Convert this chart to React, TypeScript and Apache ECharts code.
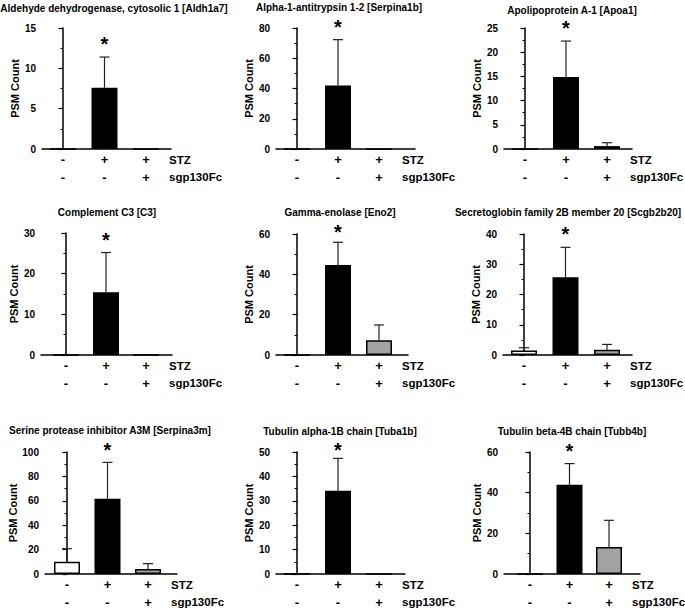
import React, { useEffect, useRef } from "react";
import * as echarts from "echarts";

const TITLES = [
  "Aldehyde dehydrogenase, cytosolic 1 [Aldh1a7]",
  "Alpha-1-antitrypsin 1-2 [Serpina1b]",
  "Apolipoprotein A-1 [Apoa1]",
  "Complement C3 [C3]",
  "Gamma-enolase [Eno2]",
  "Secretoglobin family 2B member 20 [Scgb2b20]",
  "Serine protease inhibitor A3M [Serpina3m]",
  "Tubulin alpha-1B chain [Tuba1b]",
  "Tubulin beta-4B chain [Tubb4b]",
];
const Y_MAX = [15, 80, 25, 30, 60, 40, 100, 50, 60];
const Y_STEP = [5, 20, 5, 10, 20, 10, 20, 10, 20];
const MEANS = [
  [0, 7.6, 0],
  [0, 42, 0],
  [0, 14.9, 0.6],
  [0, 15.4, 0],
  [0, 44.6, 7.3],
  [1.5, 25.7, 1.7],
  [10.1, 61.7, 4.1],
  [0, 34.1, 0],
  [0, 43.9, 13.3],
];
const ERRS = [
  [0, 3.8, 0],
  [0, 30.3, 0],
  [0, 7.4, 0.7],
  [0, 9.8, 0],
  [0, 11.3, 7.6],
  [0.9, 9.9, 1.8],
  [10.6, 29.8, 4.4],
  [0, 13.3, 0],
  [0, 10.4, 13.1],
];
const STAR_AT = [1, 1, 1, 1, 1, 1, 1, 1, 1];
const STZ = ["-", "+", "+"];
const SGP = ["-", "-", "+"];
const ROW_NAMES = ["STZ", "sgp130Fc"];
const Y_NAME = "PSM Count";

// layout (pixels)
const LAYOUT = [
  { ax: 42, top: 28, zero: 149, c0: 63, sp: 41.5, end: 171, tx: 114, ty: 8 },
  { ax: 276, top: 28, zero: 149, c0: 297, sp: 41, end: 415, tx: 339, ty: 7 },
  { ax: 504, top: 28, zero: 149, c0: 525, sp: 41, end: 632, tx: 572, ty: 10 },
  { ax: 41, top: 233, zero: 355, c0: 66, sp: 40, end: 172, tx: 107, ty: 212 },
  { ax: 276, top: 234, zero: 355, c0: 297, sp: 41, end: 408, tx: 340, ty: 212 },
  { ax: 503, top: 234, zero: 355, c0: 524, sp: 41.5, end: 632, tx: 568, ty: 212 },
  { ax: 45, top: 452, zero: 574, c0: 67, sp: 40.5, end: 177, tx: 110, ty: 430 },
  { ax: 276, top: 452, zero: 574, c0: 297, sp: 41, end: 405, tx: 340, ty: 431 },
  { ax: 504, top: 452, zero: 574, c0: 530, sp: 39.5, end: 640, tx: 572, ty: 431 },
];
const BAR_COLORS = ["#ffffff", "#000000", "#a3a3a3"];
const FONT = '"Liberation Sans", Arial, Helvetica, sans-serif';

export default function App() {
  const ref = useRef<HTMLDivElement>(null);
  useEffect(() => {
    if (!ref.current) return;
    const chart = echarts.init(ref.current, null, { renderer: "svg" });
    const grid: any[] = [];
    const xAxis: any[] = [];
    const yAxis: any[] = [];
    const series: any[] = [];
    const graphic: any[] = [];
    const axisLineStyle = { color: "#000", width: 1.5 };

    LAYOUT.forEach((L, k) => {
      grid.push({ left: L.ax, top: L.top, width: L.end - L.ax, height: L.zero - L.top });
      xAxis.push({
        gridIndex: k,
        type: "value",
        min: -(L.c0 - L.ax) / L.sp,
        max: (L.end - L.c0) / L.sp,
        axisLine: { show: true, lineStyle: axisLineStyle },
        axisTick: { show: false },
        axisLabel: { show: false },
        splitLine: { show: false },
      });
      yAxis.push({
        gridIndex: k,
        type: "value",
        min: 0,
        max: Y_MAX[k],
        interval: Y_STEP[k],
        axisLine: { show: true, lineStyle: axisLineStyle },
        axisTick: { show: true, length: 4.5, lineStyle: { color: "#000", width: 1.2 } },
        minorTick: { show: true, splitNumber: 2, length: 2.5, lineStyle: { color: "#000", width: 1 } },
        splitLine: { show: false },
        axisLabel: { color: "#000", fontFamily: FONT, fontWeight: "bold", fontSize: 10, margin: 6 },
        name: Y_NAME,
        nameLocation: "middle",
        nameGap: 22,
        nameTextStyle: { color: "#000", fontFamily: FONT, fontWeight: "bold", fontSize: 11 },
      });
      series.push({
        type: "bar",
        xAxisIndex: k,
        yAxisIndex: k,
        barWidth: 26,
        data: MEANS[k].map((v, i) => ({
          value: [i, v],
          itemStyle: { color: BAR_COLORS[i], borderColor: "#000", borderWidth: 1.5 },
        })),
      });
      series.push({
        type: "custom",
        xAxisIndex: k,
        yAxisIndex: k,
        encode: { x: 0, y: 1 },
        data: MEANS[k].map((v, i) => [i, v, ERRS[k][i]]),
        renderItem: (params: any, api: any) => {
          const i = api.value(0);
          const m = api.value(1);
          const e = api.value(2);
          const base = api.coord([i, m]);
          const tip = api.coord([i, m + e]);
          const children: any[] = [];
          if (e > 0) {
            children.push({
              type: "line",
              shape: { x1: base[0], y1: base[1], x2: tip[0], y2: tip[1] },
              style: { stroke: "#222", lineWidth: 1.2 },
            });
            children.push({
              type: "line",
              shape: { x1: tip[0] - 5, y1: tip[1], x2: tip[0] + 5, y2: tip[1] },
              style: { stroke: "#222", lineWidth: 1.2 },
            });
          }
          if (i === STAR_AT[k]) {
            const topPx = api.coord([i, Y_MAX[k]])[1];
            const y = Math.max(tip[1] - 14, topPx - 3);
            children.push({
              type: "text",
              x: tip[0],
              y: y + 1,
              style: {
                text: "*",
                font: `bold 20px ${FONT}`,
                fill: "#000",
                align: "center",
                verticalAlign: "middle",
              },
            });
          }
          return { type: "group", children };
        },
      });
      series.push({
        type: "custom",
        xAxisIndex: k,
        yAxisIndex: k,
        encode: { x: 0, y: 1 },
        data: STZ.map((s, i) => [i, 0]),
        renderItem: (params: any, api: any) => {
          const i = api.value(0);
          const p = api.coord([i, 0]);
          const children: any[] = [
            {
              type: "text",
              x: p[0],
              y: p[1] + 10.5,
              style: { text: STZ[i], font: `bold 13px ${FONT}`, fill: "#000", align: "center", verticalAlign: "middle" },
            },
            {
              type: "text",
              x: p[0],
              y: p[1] + 28,
              style: { text: SGP[i], font: `bold 13px ${FONT}`, fill: "#000", align: "center", verticalAlign: "middle" },
            },
          ];
          if (i === STZ.length - 1) {
            ROW_NAMES.forEach((n, r) => {
              children.push({
                type: "text",
                x: p[0] + 23,
                y: p[1] + 10.5 + r * 17.5,
                style: { text: n, font: `bold 11.5px ${FONT}`, fill: "#000", align: "left", verticalAlign: "middle" },
              });
            });
          }
          return { type: "group", children };
        },
      });
      graphic.push({
        type: "text",
        x: L.tx,
        y: L.ty,
        style: {
          text: TITLES[k],
          font: `bold 10px ${FONT}`,
          fill: "#000",
          align: "center",
          verticalAlign: "middle",
        },
      });
    });

    chart.setOption({
      animation: false,
      backgroundColor: "#fff",
      grid,
      xAxis,
      yAxis,
      series,
      graphic,
    });
    return () => chart.dispose();
  }, []);
  return (
    <div
      ref={ref}
      style={{ position: "absolute", left: 0, top: 0, width: 685, height: 608 }}
    />
  );
}
